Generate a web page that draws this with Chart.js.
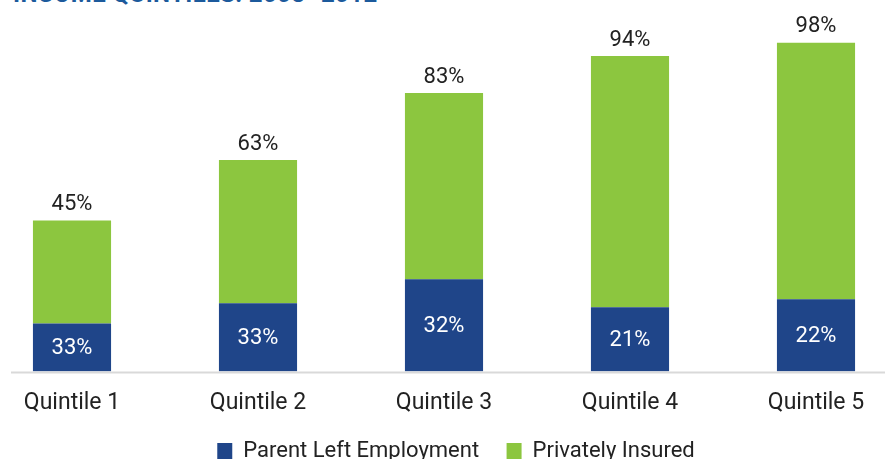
<!DOCTYPE html>
<html>
<head>
<meta charset="utf-8">
<script src="https://cdn.jsdelivr.net/npm/chart.js@4"></script>
<style>
  html, body { margin: 0; padding: 0; background: #fff; overflow: hidden; }
  body { width: 885px; height: 459px; position: relative; font-family: Roboto, sans-serif; }
  #title { position: absolute; left: 13px; top: -18px; font-weight: 700; font-size: 24px; line-height: 24px; color: #1c5a9c; white-space: nowrap; letter-spacing: 0.4px; }
  #wrap { position: absolute; left: -21px; top: 0; width: 954px; height: 472px; }
</style>
</head>
<body>
<div id="title">INCOME QUINTILES: 2008–2012</div>
<div id="wrap"><canvas id="chart"></canvas></div>
<script>
// categories
const quintiles = ['Quintile 1', 'Quintile 2', 'Quintile 3', 'Quintile 4', 'Quintile 5'];
// bar heights (percent of children)
const parentLeft = [14.3, 20.3, 27.5, 19.1, 21.5];
const privatelyInsured = [30.7, 42.7, 55.5, 74.9, 76.5];
// printed labels
const parentLeftLabels = ['33%', '33%', '32%', '21%', '22%'];
const totalLabels = ['45%', '63%', '83%', '94%', '98%'];

const blue = '#1f4589';
const green = '#8cc63f';

const labelPlugin = {
    id: 'labelPlugin',
    afterDatasetsDraw(chart) {
        const ctx = chart.ctx;
        ctx.save();
        ctx.font = '22px Roboto';
        ctx.textAlign = 'center';
        ctx.textBaseline = 'middle';
        const metaBlue = chart.getDatasetMeta(0);
        const metaGreen = chart.getDatasetMeta(1);
        metaBlue.data.forEach((bar, i) => {
            ctx.fillStyle = '#ffffff';
            ctx.fillText(parentLeftLabels[i], bar.x, (bar.y + bar.base) / 2 + 1);
        });
        metaGreen.data.forEach((bar, i) => {
            ctx.fillStyle = '#222222';
            ctx.fillText(totalLabels[i], bar.x, bar.y - 16);
        });
        ctx.restore();
    }
};

const axisLine = {
    id: 'axisLine',
    afterDatasetsDraw(chart) {
        const ctx = chart.ctx;
        const y = chart.scales.y.getPixelForValue(0) + 1;
        ctx.save();
        ctx.strokeStyle = '#d9d9d9';
        ctx.lineWidth = 2;
        ctx.beginPath();
        ctx.moveTo(chart.chartArea.left + 32, y);
        ctx.lineTo(chart.chartArea.right, y);
        ctx.stroke();
        ctx.restore();
    }
};

new Chart(document.getElementById('chart'), {
    type: 'bar',
    data: {
        labels: quintiles,
        datasets: [{
            label: 'Parent Left Employment',
            data: parentLeft,
            backgroundColor: blue
        }, {
            label: 'Privately Insured',
            data: privatelyInsured,
            backgroundColor: green
        }]
    },
    options: {
        responsive: true,
        maintainAspectRatio: false,
        animation: false,
        barPercentage: 0.42,
        categoryPercentage: 1,
        layout: { padding: { top: 36, left: 0, right: 0, bottom: 0 } },
        scales: {
            x: {
                stacked: true,
                grid: { display: false, drawTicks: false },
                border: { display: false },
                ticks: { color: '#222', font: { family: 'Roboto', size: 23 }, padding: 18 }
            },
            y: {
                stacked: true,
                position: 'right',
                min: 0,
                max: 100,
                grid: { display: false, drawTicks: false },
                border: { display: false },
                ticks: { display: false },
                // empty strip on the right so the legend sits a little right of the bars' centre
                afterFit(axis) { axis.width = 24; }
            }
        },
        plugins: {
            tooltip: { enabled: false },
            legend: {
                position: 'bottom',
                labels: {
                    color: '#222',
                    font: { family: 'Roboto', size: 22 },
                    boxWidth: 15,
                    boxHeight: 16,
                    padding: 5,
                    // wider gap between the two entries without a taller legend
                    generateLabels(chart) {
                        const items = Chart.defaults.plugins.legend.labels.generateLabels(chart);
                        items[0].text = items[0].text + '\u2003';
                        return items;
                    }
                }
            }
        }
    },
    plugins: [labelPlugin, axisLine]
});
</script>
</body>
</html>
